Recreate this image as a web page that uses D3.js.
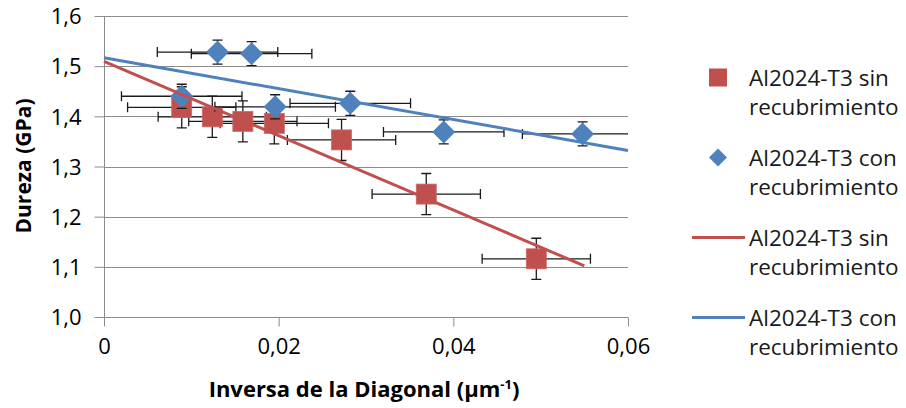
<!DOCTYPE html>
<html>
<head>
<meta charset="utf-8">
<script src="https://cdn.jsdelivr.net/npm/d3@7"></script>
<style>
  html, body { margin: 0; padding: 0; background: #fff; }
  svg { display: block; font-family: "Open Sans", "Noto Sans", sans-serif; }
</style>
</head>
<body>
<svg id="chart" width="906" height="408"></svg>
<script>
// ---- data ----
const redName = "Al2024-T3 sin recubrimiento";
const blueName = "Al2024-T3 con recubrimiento";
const redX = [0.0089, 0.0124, 0.0159, 0.0195, 0.0272, 0.0369, 0.0495];
const redY = [1.418, 1.399, 1.390, 1.386, 1.353, 1.245, 1.116];
const redXErr = [0.0062, 0.0062, 0.0062, 0.0062, 0.0062, 0.0062, 0.0062];
const redYErr = [0.041, 0.041, 0.041, 0.041, 0.041, 0.041, 0.041];
const blueX = [0.0089, 0.0130, 0.0169, 0.0196, 0.0282, 0.0389, 0.0548];
const blueY = [1.440, 1.528, 1.525, 1.419, 1.426, 1.369, 1.365];
const blueXErr = [0.0069, 0.0069, 0.0069, 0.0069, 0.0069, 0.0069, 0.0069];
const blueYErr = [0.024, 0.024, 0.024, 0.024, 0.024, 0.024, 0.024];
// linear trendlines (endpoints)
const redTrendX = [0, 0.055];
const redTrendY = [1.5096, 1.102];
const blueTrendX = [0, 0.06];
const blueTrendY = [1.5166, 1.332];
// ticks
const xTicks = [0, 0.02, 0.04, 0.06];
const xTickLabels = ["0", "0,02", "0,04", "0,06"];
const yTicks = [1.0, 1.1, 1.2, 1.3, 1.4, 1.5, 1.6];
const yTickLabels = ["1,0", "1,1", "1,2", "1,3", "1,4", "1,5", "1,6"];
const legendLabels = [
  ["Al2024-T3 sin", "recubrimiento"],
  ["Al2024-T3 con", "recubrimiento"],
  ["Al2024-T3 sin", "recubrimiento"],
  ["Al2024-T3 con", "recubrimiento"]
];

// ---- layout ----
const RED = "#C0504D", BLUE = "#4F81BD", GRID = "#8c8c8c";
const svg = d3.select("#chart");
const x = d3.scaleLinear().domain([0, 0.06]).range([104, 628]);
const y = d3.scaleLinear().domain([1.0, 1.6]).range([317, 16]);

svg.append("defs").append("clipPath").attr("id", "plotclip")
  .append("rect").attr("x", x(0)).attr("y", y(1.6) - 20)
  .attr("width", x(0.06) - x(0)).attr("height", y(1.0) - y(1.6) + 40);

// gridlines
svg.append("g").selectAll("line").data(yTicks.slice(1)).join("line")
  .attr("x1", x(0)).attr("x2", x(0.06))
  .attr("y1", d => Math.round(y(d)) + 0.5).attr("y2", d => Math.round(y(d)) + 0.5)
  .attr("stroke", GRID).attr("stroke-width", 1);

// y axis
const yAxis = d3.axisLeft(y).tickValues(yTicks)
  .tickFormat((d, i) => yTickLabels[i]).tickSize(10).tickPadding(13);
const gy = svg.append("g").attr("transform", "translate(" + (x(0) + 0.5) + ",0)").call(yAxis);
gy.select(".domain").attr("stroke", GRID).attr("d", "M0," + y(1.6) + "V" + y(1.0));
gy.selectAll(".tick line").attr("stroke", GRID);
gy.selectAll(".tick text").attr("font-size", 22).attr("fill", "#000")
  .attr("font-family", "Open Sans").attr("dy", "0.35em");

// x axis
const xAxis = d3.axisBottom(x).tickValues(xTicks)
  .tickFormat((d, i) => xTickLabels[i]).tickSize(9).tickPadding(12);
const gx = svg.append("g").attr("transform", "translate(0," + (Math.round(y(1.0)) + 0.5) + ")").call(xAxis);
gx.select(".domain").attr("stroke", GRID).attr("d", "M" + x(0) + ",0H" + x(0.06));
gx.selectAll(".tick line").attr("stroke", GRID);
gx.selectAll(".tick text").attr("font-size", 22).attr("fill", "#000")
  .attr("font-family", "Open Sans");

// series drawing
function drawSeries(xs, ys, xe, ye, color, shape) {
  const pts = xs.map((v, i) => ({ x: v, y: ys[i], xe: xe[i], ye: ye[i] }));
  const g = svg.append("g").attr("clip-path", "url(#plotclip)");
  const cap = 5;
  const eb = g.append("g").attr("stroke", "#1a1a1a").attr("stroke-width", 1.3).attr("fill", "none");
  pts.forEach(p => {
    const cx = x(p.x), cy = y(p.y);
    const xl = x(p.x - p.xe), xr = x(p.x + p.xe);
    const yt = y(p.y + p.ye), yb = y(p.y - p.ye);
    eb.append("path").attr("d",
      "M" + xl + "," + cy + "H" + xr +
      "M" + xl + "," + (cy - cap) + "V" + (cy + cap) +
      "M" + xr + "," + (cy - cap) + "V" + (cy + cap) +
      "M" + cx + "," + yt + "V" + yb +
      "M" + (cx - cap) + "," + yt + "H" + (cx + cap) +
      "M" + (cx - cap) + "," + yb + "H" + (cx + cap));
  });
  const mk = svg.append("g");
  if (shape === "square") {
    mk.selectAll("rect").data(pts).join("rect")
      .attr("x", d => x(d.x) - 10).attr("y", d => y(d.y) - 10)
      .attr("width", 20).attr("height", 20)
      .attr("fill", color).attr("stroke", "#c96a67").attr("stroke-width", 0.8);
  } else {
    mk.selectAll("path").data(pts).join("path")
      .attr("d", d => {
        const cx = x(d.x), cy = y(d.y), r = 11.5;
        return "M" + cx + "," + (cy - r) + "L" + (cx + r) + "," + cy +
               "L" + cx + "," + (cy + r) + "L" + (cx - r) + "," + cy + "Z";
      })
      .attr("fill", color);
  }
}
drawSeries(redX, redY, redXErr, redYErr, RED, "square");
drawSeries(blueX, blueY, blueXErr, blueYErr, BLUE, "diamond");

// trendlines
const line = d3.line().x(d => x(d[0])).y(d => y(d[1]));
svg.append("path").datum(redTrendX.map((v, i) => [v, redTrendY[i]]))
  .attr("d", line).attr("stroke", RED).attr("stroke-width", 3).attr("fill", "none");
svg.append("path").datum(blueTrendX.map((v, i) => [v, blueTrendY[i]]))
  .attr("d", line).attr("stroke", BLUE).attr("stroke-width", 3).attr("fill", "none");

// axis titles
svg.append("text").attr("x", 364).attr("y", 397).attr("text-anchor", "middle")
  .attr("font-size", 22).attr("font-weight", "bold").attr("font-family", "Open Sans")
  .call(t => {
    t.append("tspan").text("Inversa de la Diagonal (µm");
    t.append("tspan").attr("dy", -8).attr("font-size", 13).text("-1");
    t.append("tspan").attr("dy", 8).text(")");
  });
svg.append("text").attr("transform", "translate(31,166) rotate(-90)")
  .attr("text-anchor", "middle").attr("font-size", 21).attr("font-weight", "bold")
  .attr("font-family", "Open Sans").text("Dureza (GPa)");

// legend
const lg = svg.append("g");
const legendTop = 86, legendStep = 80, lineH = 29;
legendLabels.forEach((lbl, i) => {
  const by = legendTop + i * legendStep;
  const my = by - 8.5;
  if (i === 0) {
    lg.append("rect").attr("x", 709).attr("y", my - 9).attr("width", 18).attr("height", 18).attr("fill", RED);
  } else if (i === 1) {
    lg.append("path").attr("d", "M718," + (my - 9) + "L727," + my + "L718," + (my + 9) + "L709," + my + "Z").attr("fill", BLUE);
  } else {
    lg.append("line").attr("x1", 692).attr("x2", 745).attr("y1", my).attr("y2", my)
      .attr("stroke", i === 2 ? RED : BLUE).attr("stroke-width", 3);
  }
  lbl.forEach((s, j) => {
    lg.append("text").attr("x", 749).attr("y", by + j * lineH)
      .attr("font-size", 22.5).attr("font-family", "Open Sans").attr("fill", "#1a1a1a").text(s);
  });
});
</script>
</body>
</html>
